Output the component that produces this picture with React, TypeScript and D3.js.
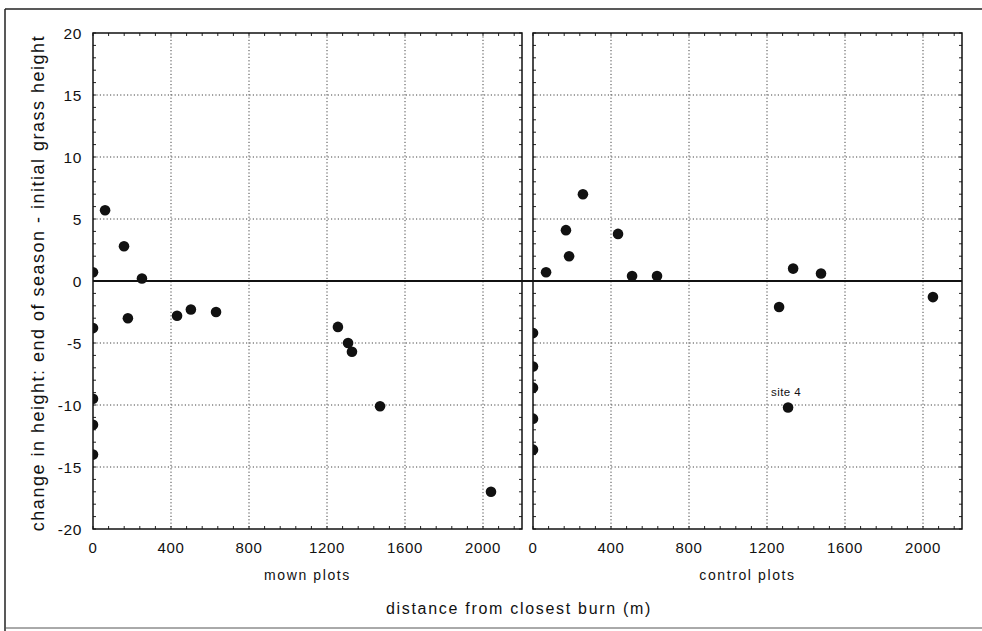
import React from "react";
import * as d3 from "d3";

const mownDist = [0, 62, 159, 179, 251, 0, 431, 502, 631, 1256, 1308, 1328, 1472, 2041, 0, 0, 0];
const mownChange = [0.7, 5.7, 2.8, -3.0, 0.2, -3.8, -2.8, -2.3, -2.5, -3.7, -5.0, -5.7, -10.1, -17.0, -9.5, -11.6, -14.0];

const controlDist = [67, 169, 185, 256, 436, 508, 636, 1334, 1477, 1262, 2051, 1308, 0, 0, 0, 0, 0];
const controlChange = [0.7, 4.1, 2.0, 7.0, 3.8, 0.4, 0.4, 1.0, 0.6, -2.1, -1.3, -10.2, -4.2, -6.9, -8.6, -11.1, -13.6];

const xTicks = [0, 400, 800, 1200, 1600, 2000];
const yTicks = [-20, -15, -10, -5, 0, 5, 10, 15, 20];
const panelTitles = ["mown plots", "control plots"];
const annotation = { text: "site 4", dist: 1308, change: -10.2 };

const FONT = "'Liberation Sans', Arial, Helvetica, sans-serif";

export default function App() {
  const top = 33;
  const bottom = 529;
  const panels = [
    { x0: 93, x1: 522, dist: mownDist, change: mownChange, title: panelTitles[0], labels: true },
    { x0: 533, x1: 962, dist: controlDist, change: controlChange, title: panelTitles[1], labels: false },
  ];
  const y = d3.scaleLinear().domain([-20, 20]).range([bottom, top]);
  const yMinor = d3.range(-20, 21, 1);
  const xMinor = d3.range(0, 2201, 80);
  const gridY = [-15, -10, -5, 5, 10, 15];
  const gridX = [400, 800, 1200, 1600, 2000];

  return (
    <svg width={982} height={631} style={{ display: "block", position: "absolute", left: 0, top: 0 }}>
      <rect x={0} y={0} width={982} height={631} fill="#fff" />
      <line x1={5} x2={982} y1={9} y2={9} stroke="#222" strokeWidth={1.5} />
      <line x1={5} x2={5} y1={9} y2={631} stroke="#222" strokeWidth={1.5} />
      <line x1={5} x2={982} y1={628} y2={628} stroke="#555" strokeWidth={1} />
      <defs>
        {panels.map((p, i) => (
          <clipPath id={`clip${i}`} key={i}>
            <rect x={p.x0} y={top} width={p.x1 - p.x0} height={bottom - top} />
          </clipPath>
        ))}
      </defs>
      {panels.map((p, i) => {
        const x = d3.scaleLinear().domain([0, 2200]).range([p.x0, p.x1]);
        return (
          <g key={i}>
            {gridY.map((v) => (
              <line key={`gy${v}`} x1={p.x0} x2={p.x1} y1={y(v)} y2={y(v)} stroke="#444" strokeWidth={1} strokeDasharray="1.2,2.2" />
            ))}
            {gridX.map((v) => (
              <line key={`gx${v}`} x1={x(v)} x2={x(v)} y1={top} y2={bottom} stroke="#444" strokeWidth={1} strokeDasharray="1.2,2.2" />
            ))}
            {yMinor.map((v) => (
              <g key={`ym${v}`}>
                <line x1={p.x0} x2={p.x0 + 3} y1={y(v)} y2={y(v)} stroke="#222" strokeWidth={1} />
                <line x1={p.x1} x2={p.x1 - 3} y1={y(v)} y2={y(v)} stroke="#222" strokeWidth={1} />
              </g>
            ))}
            {xMinor.map((v) => (
              <g key={`xm${v}`}>
                <line x1={x(v)} x2={x(v)} y1={bottom} y2={bottom - 3} stroke="#222" strokeWidth={1} />
                <line x1={x(v)} x2={x(v)} y1={top} y2={top + 3} stroke="#222" strokeWidth={1} />
              </g>
            ))}
            <rect x={p.x0} y={top} width={p.x1 - p.x0} height={bottom - top} fill="none" stroke="#111" strokeWidth={1.5} />
            {xTicks.map((v) => (
              <text key={`xt${v}`} x={x(v)} y={553} textAnchor="middle" fontFamily={FONT} fontSize={15} fill="#111" letterSpacing={0.6}>
                {v}
              </text>
            ))}
            {p.labels &&
              yTicks.map((v) => (
                <text key={`yt${v}`} x={82} y={y(v) + 5.5} textAnchor="end" fontFamily={FONT} fontSize={15.5} fill="#111" letterSpacing={0.6}>
                  {v}
                </text>
              ))}
            <text x={(p.x0 + p.x1) / 2} y={580} textAnchor="middle" fontFamily={FONT} fontSize={14} fill="#111" letterSpacing={1.6}>
              {p.title}
            </text>
            <g clipPath={`url(#clip${i})`}>
              {p.dist.map((d, j) => (
                <circle key={j} cx={x(d)} cy={y(p.change[j])} r={5.3} fill="#111" />
              ))}
            </g>
            {i === 1 && (
              <text x={x(annotation.dist) - 17} y={y(annotation.change) - 11} fontFamily={FONT} fontSize={11.5} fill="#111" letterSpacing={0.4}>
                {annotation.text}
              </text>
            )}
          </g>
        );
      })}
      <line x1={93} x2={962} y1={y(0)} y2={y(0)} stroke="#111" strokeWidth={1.8} />
      <text x={519} y={614} textAnchor="middle" fontFamily={FONT} fontSize={16} fill="#111" letterSpacing={1.7}>
        distance from closest burn (m)
      </text>
      <text
        transform={`translate(44,${(top + bottom) / 2 + 2}) rotate(-90)`}
        textAnchor="middle"
        fontFamily={FONT}
        fontSize={18}
        fill="#111"
        letterSpacing={1.5}
      >
        change in height: end of season - initial grass height
      </text>
    </svg>
  );
}
